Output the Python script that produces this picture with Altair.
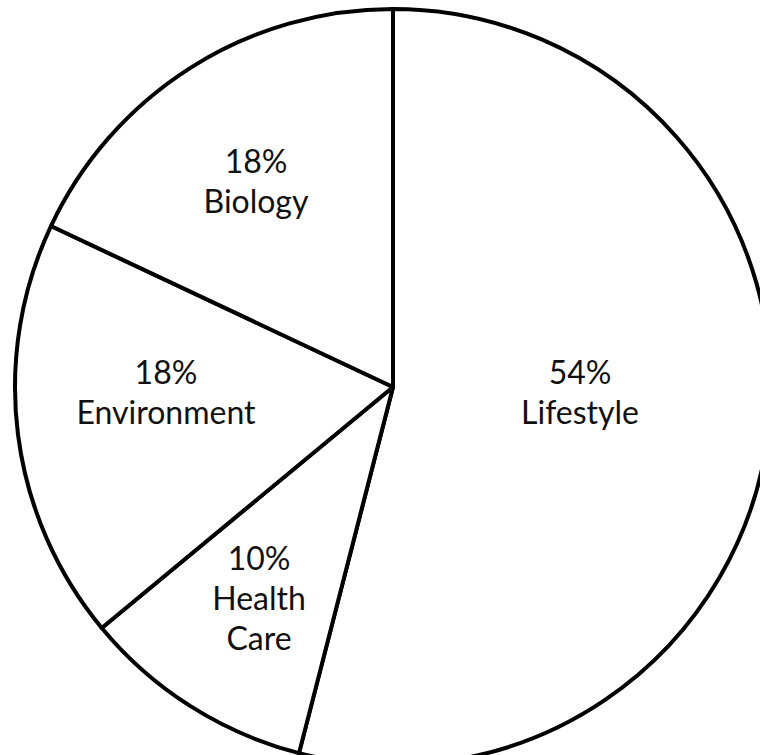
import altair as alt
import pandas as pd

categories = ["Lifestyle", "Health Care", "Environment", "Biology"]
display_names = ["Lifestyle", "Health\nCare", "Environment", "Biology"]
percents = [54, 10, 18, 18]
order_idx = [0, 1, 2, 3]

df = pd.DataFrame({
    "category": categories,
    "name": display_names,
    "value": percents,
    "idx": order_idx,
})

CX, CY, R = 393, 387, 378

base = (
    alt.Chart(df)
    .transform_window(cum="sum(value)", sort=[alt.SortField("idx")])
    .transform_calculate(
        start="datum.cum - datum.value",
        end="datum.cum",
        mid="datum.cum - datum.value / 2",
        label="datum.value + '%\\n' + datum.name",
    )
)

theta_scale = alt.Scale(domain=[0, 100], range=[0, 6.283185307179586])

arcs = base.mark_arc(
    radius=R, fill="white", stroke="black", strokeWidth=4, strokeJoin="round"
).encode(
    theta=alt.Theta("start:Q", scale=theta_scale),
    theta2="end:Q",
    x=alt.value(CX),
    y=alt.value(CY),
)

offsets = {
    "Lifestyle": (-61, -44),
    "Health Care": (0, -38),
    "Environment": (21, -44),
    "Biology": (-3, -13),
}

texts = []
for cat in categories:
    dx, dy = offsets[cat]
    t = base.transform_filter(alt.datum.category == cat).mark_text(
        radius=250,
        font="Lato",
        fontSize=32,
        lineBreak="\n",
        lineHeight=40,
        align="center",
        baseline="middle",
        color="#111111",
        dx=dx,
        dy=dy,
    ).encode(
        theta=alt.Theta("mid:Q", scale=theta_scale),
        text="label:N",
        x=alt.value(CX),
        y=alt.value(CY),
    )
    texts.append(t)

chart = alt.layer(arcs, *texts).properties(
    width=760, height=755, autosize="none", padding=0, background="white"
).configure_view(stroke=None)

chart.save("out.html", embed_options={"renderer": "svg", "actions": False})
